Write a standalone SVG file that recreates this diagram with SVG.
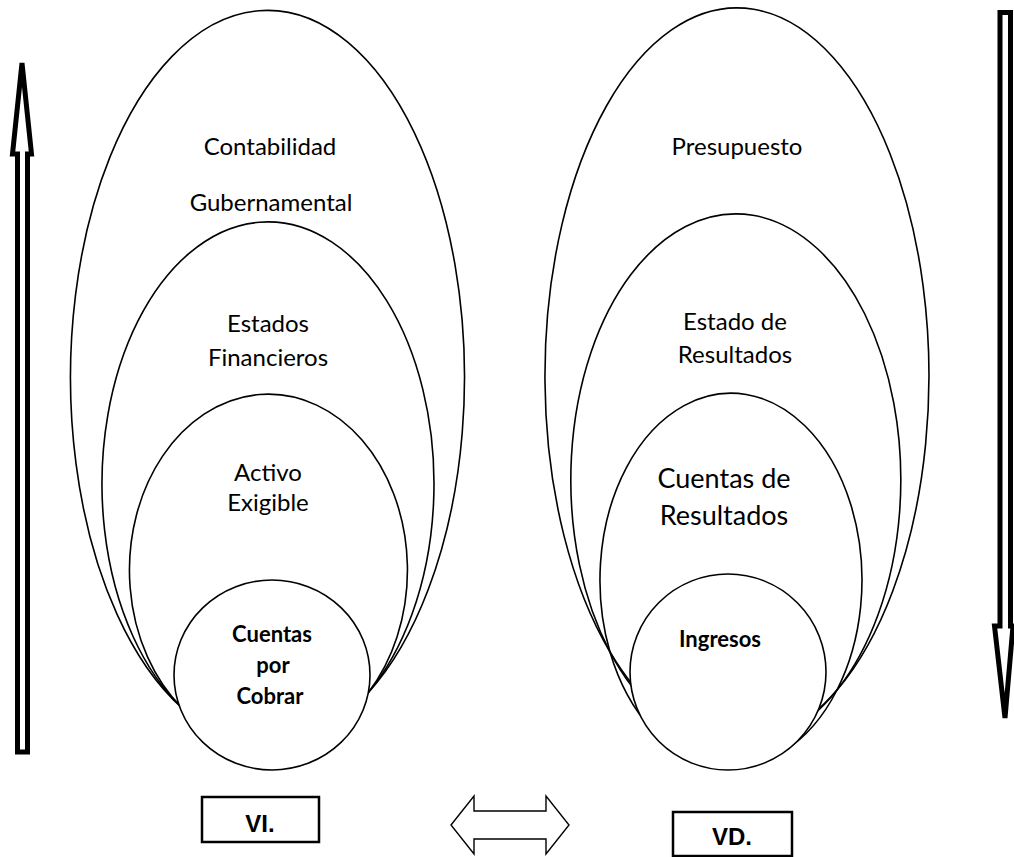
<svg xmlns="http://www.w3.org/2000/svg" width="1014" height="857" viewBox="0 0 1014 857">
  <style>
    .shape { fill: none; stroke: #000; stroke-width: 1.6; }
    .core { fill: #fff; stroke: #000; stroke-width: 1.6; }
    .lbl { font-family: Lato, "Liberation Sans", sans-serif; font-size: 24px; fill: #000; text-anchor: middle; }
    .lbl-big { font-family: Lato, "Liberation Sans", sans-serif; font-size: 27px; fill: #000; text-anchor: middle; }
    .lbl-bold { font-family: Lato, "Liberation Sans", sans-serif; font-size: 22px; font-weight: bold; fill: #000; text-anchor: middle; }
    .tag { fill: #fff; stroke: #000; stroke-width: 2.5; }
    .tag-txt { font-family: "Liberation Sans", Arial, sans-serif; font-size: 24px; font-weight: bold; fill: #000; text-anchor: middle; }
    .big-arrow { fill: #fff; stroke: #000; stroke-width: 5; stroke-linejoin: miter; }
    .swap-arrow { fill: #fff; stroke: #000; stroke-width: 1.4; }
  </style>

  <!-- Left column: nested ellipses -->
  <g id="contabilidad-gubernamental">
    <path class="shape" d="M182,708 A197,367 0 1,1 368,693 A197,367 0 0,1 182,708 Z"/>
    <text class="lbl" x="270" y="155">Contabilidad</text>
    <text class="lbl" x="271" y="211">Gubernamental</text>
  </g>
  <g id="estados-financieros">
    <path class="shape" d="M182,708 A166,262 0 1,1 368,693 A166,262 0 0,1 182,708 Z"/>
    <text class="lbl" x="268" y="332">Estados</text>
    <text class="lbl" x="268" y="366">Financieros</text>
  </g>
  <g id="activo-exigible">
    <path class="shape" d="M182,708 A139,176 0 1,1 368,693 A139,176 0 0,1 182,708 Z"/>
    <text class="lbl" x="268" y="481">Activo</text>
    <text class="lbl" x="268" y="511">Exigible</text>
  </g>
  <g id="cuentas-por-cobrar">
    <ellipse class="core" cx="272" cy="675" rx="98" ry="95"/>
    <text class="lbl-bold" x="272" y="642">Cuentas</text>
    <text class="lbl-bold" x="273" y="673">por</text>
    <text class="lbl-bold" x="270" y="704">Cobrar</text>
  </g>

  <!-- Right column: nested ellipses -->
  <g id="presupuesto">
    <path class="shape" d="M610,652 A192,368 0 1,1 837,690 A192,368 0 0,1 610,652 Z"/>
    <text class="lbl" x="737" y="155">Presupuesto</text>
  </g>
  <g id="estado-de-resultados">
    <path class="shape" d="M610,652 A165,266 0 1,1 837,690 A165,266 0 0,1 610,652 Z"/>
    <text class="lbl" x="735" y="330">Estado de</text>
    <text class="lbl" x="735" y="363">Resultados</text>
  </g>
  <g id="cuentas-de-resultados">
    <path class="shape" d="M610,652 A131,187 0 1,1 837,690 A131,187 0 0,1 610,652 Z"/>
    <text class="lbl-big" x="724" y="488">Cuentas de</text>
    <text class="lbl-big" x="724" y="525">Resultados</text>
  </g>
  <g id="ingresos">
    <ellipse class="core" cx="728" cy="672" rx="98" ry="98"/>
    <text class="lbl-bold" x="720" y="647">Ingresos</text>
  </g>

  <!-- Variable tags -->
  <g id="vi">
    <rect class="tag" x="202" y="797" width="117" height="45"/>
    <text class="tag-txt" x="260" y="832">VI.</text>
  </g>
  <g id="vd">
    <rect class="tag" x="673" y="812" width="119" height="44"/>
    <text class="tag-txt" x="732" y="845">VD.</text>
  </g>

  <!-- Arrows -->
  <g id="connectors">
    <path class="big-arrow" d="M17.5,752 L17.5,154 L12.5,154 L22,63 L31.5,154 L27.5,154 L27.5,752 Z"/>
    <path class="big-arrow" d="M1000,12.5 L1010.5,12.5 L1010.5,626 L1013,626 L1005,718 L994.5,626 L1000,626 Z"/>
    <path class="swap-arrow" d="M451,825 L474,796 L474,811 L546,811 L546,796 L569,825 L546,854 L546,839 L474,839 L474,854 Z"/>
  </g>
</svg>
